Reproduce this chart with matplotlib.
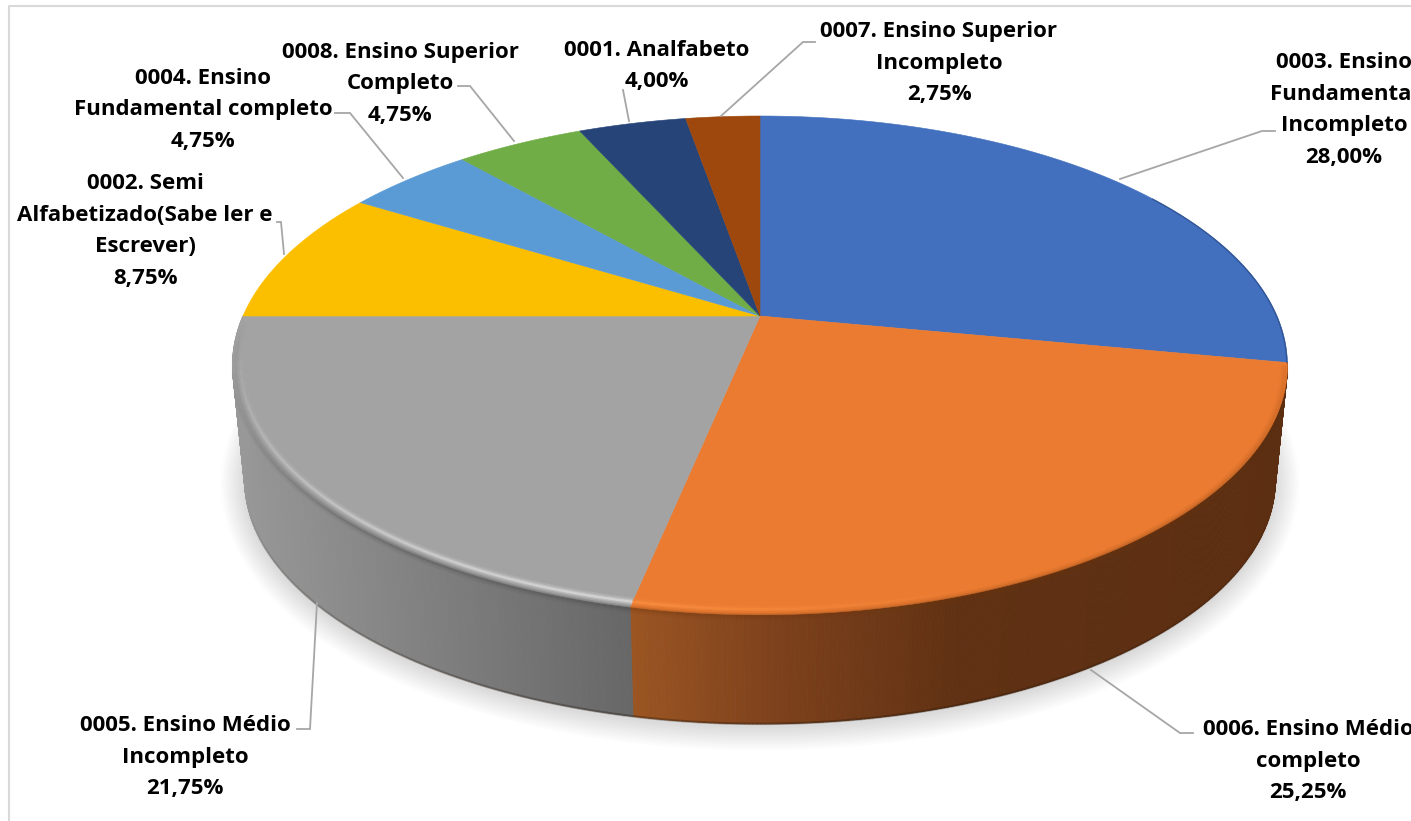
import numpy as np
import matplotlib
matplotlib.use("Agg")
import matplotlib.pyplot as plt
from matplotlib.collections import LineCollection, PolyCollection
from matplotlib.patches import Polygon

categories = ["0003. Ensino\nFundamental\nIncompleto", "0006. Ensino Médio\ncompleto",
              "0005. Ensino Médio\nIncompleto", "0002. Semi\nAlfabetizado(Sabe ler e\nEscrever)",
              "0004. Ensino\nFundamental completo", "0008. Ensino Superior\nCompleto",
              "0001. Analfabeto", "0007. Ensino Superior\nIncompleto"]
values = [28.00, 25.25, 21.75, 8.75, 4.75, 4.75, 4.00, 2.75]
colors = ["#4270BF", "#EA7B31", "#A3A3A3", "#FCBF00", "#5B9BD5", "#70AD47", "#264478", "#9E480E"]
label_pos = [(1344, 110), (1308, 761), (185, 757), (145, 231), (203, 110), (400, 84), (657, 66), (939, 63)]
leaders = [[(1120, 179), (1262, 131), (1275, 131)], [(1091, 670), (1180, 733), (1193, 733)],
           [(317, 603), (310, 729), (297, 729)], [(284, 254), (281, 222), (277, 222)],
           [(403, 178), (350, 113), (335, 113)], [(514, 141), (470, 86), (458, 86)],
           [(629, 121), (623, 90), (623, 90)], [(721, 116), (803, 42), (815, 42)]]

W, H = 1411, 821
CX, CY, K = 760, 316, 0.198
A, B = 239.6, 517
BOT_CY, BOT_S = 432, 0.977


def top(th, r=1.0):
    X, Y = r * np.sin(th), r * np.cos(th)
    d = 1 + K * Y
    return CX + B * X / d, CY - A * Y / d


def bottom(th):
    X, Y = np.sin(th), np.cos(th)
    d = 1 + K * Y
    return CX + BOT_S * B * X / d, BOT_CY - BOT_S * A * Y / d


def segments(x, y):
    p = np.column_stack([x, y])
    return np.stack([p[:-1], p[1:]], axis=1)


fig = plt.figure(figsize=(W / 100, H / 100), dpi=100, facecolor="white")
ax = fig.add_axes([0, 0, 1, 1])
ax.set_xlim(0, W)
ax.set_ylim(H, 0)
ax.axis("off")

# chart frame
ax.plot([9, 9, W], [H, 6, 6], color="#D9D9D9", lw=1.5, zorder=1)

edges = np.concatenate([[0], np.cumsum(values)]) / sum(values) * 2 * np.pi

# soft shadow
tt = np.linspace(0, 2 * np.pi, 500)
bx, by = bottom(tt)
for lw in np.linspace(34, 2, 12):
    ax.plot(bx, by + 3, color="black", alpha=0.012, lw=lw, zorder=2, solid_capstyle="round")

# side wall
wall_x = {1: ([633, 780, 960, 1300], [(155, 85, 35), (125, 65, 28), (96, 49, 19), (92, 46, 18)]),
          2: ([240, 430, 633], [(152, 152, 152), (128, 128, 128), (103, 103, 103)])}
for i, (xs, cs) in wall_x.items():
    th = np.linspace(edges[i], edges[i + 1], 240)
    x1, y1 = top(th)
    x2, y2 = bottom(th)
    polys, fc = [], []
    for j in range(len(th) - 1):
        polys.append([(x1[j], y1[j]), (x1[j + 1], y1[j + 1]), (x2[j + 1], y2[j + 1]), (x2[j], y2[j])])
        xm = (x1[j] + x2[j]) / 2
        fc.append([np.interp(xm, xs, [c[k] for c in cs]) / 255 for k in range(3)])
    ax.add_collection(PolyCollection(polys, facecolors=fc, edgecolors=fc, linewidths=0.7, zorder=3))

# dark line at the foot of the wall, only on its visible front part
th = np.linspace(edges[1], edges[3], 500)
th = th[np.cos(th) < -K]
x2, y2 = bottom(th)
foot = np.clip(-np.cos(th[:-1]) * 1.2 - 0.35, 0, 1) * 0.4
foot_rgba = np.column_stack([np.tile((0.12, 0.08, 0.04), (len(foot), 1)), foot])
ax.add_collection(LineCollection(segments(x2, y2), colors=foot_rgba, linewidths=1.8, zorder=3.5))

# top faces
for i, c in enumerate(colors):
    th = np.linspace(edges[i], edges[i + 1], 200)
    x, y = top(th)
    pts = np.column_stack([np.r_[CX, x], np.r_[CY, y]])
    ax.add_patch(Polygon(pts, closed=True, facecolor=c, edgecolor=c, lw=0.4, zorder=4))

# bevel: shaded band under the rim and highlight on the front part
rim = [(1, (0.45, 0.22, 0.06), (1.0, 0.58, 0.27)), (2, (0.25, 0.25, 0.25), (0.93, 0.93, 0.93))]
for i, dark, light in rim:
    th = np.linspace(edges[i], edges[i + 1], 300)
    x, y = top(th, 0.995)
    hx, hy = top(th, 0.985)
    strength = np.clip(-np.cos(th[:-1]) * 1.05, 0, 1) ** 1.6
    if i == 1:
        strength = np.clip((1000 - hx[:-1]) / 370, 0, 1)
    shade = np.clip(-np.cos(th[:-1]) * 1.2, 0, 1)
    for lw, a in [(7, 0.08), (4, 0.12), (2, 0.14)]:
        rgba = np.column_stack([np.tile(dark, (len(shade), 1)), shade * a])
        ax.add_collection(LineCollection(segments(x, y + 3), colors=rgba, linewidths=lw, zorder=5, capstyle="butt"))
    for lw, a in [(6, 0.14), (3.5, 0.25), (1.6, 0.45)]:
        rgba = np.column_stack([np.tile(light, (len(strength), 1)), strength * a])
        ax.add_collection(LineCollection(segments(hx, hy), colors=rgba, linewidths=lw, zorder=6, capstyle="butt"))

# thin dark edge on the blue slice
th = np.linspace(edges[0] + 1.0, edges[1], 120)
x, y = top(th, 0.999)
ax.plot(x, y, color="#22407A", lw=1.0, alpha=0.6, zorder=5)

# leader lines
for pts in leaders:
    xs, ys = zip(*pts)
    ax.plot(xs, ys, color="#A6A6A6", lw=1.3, zorder=7, solid_joinstyle="miter")

# labels
for name, v, (lx, ly) in zip(categories, values, label_pos):
    pct = f"{v:.2f}".replace(".", ",") + "%"
    ax.text(lx, ly, f"{name}\n{pct}", ha="center", va="center", multialignment="center",
            family="Open Sans", fontweight="bold", fontsize=16.0, linespacing=1.67, color="black", zorder=8)

fig.savefig("out.png", dpi=100)
